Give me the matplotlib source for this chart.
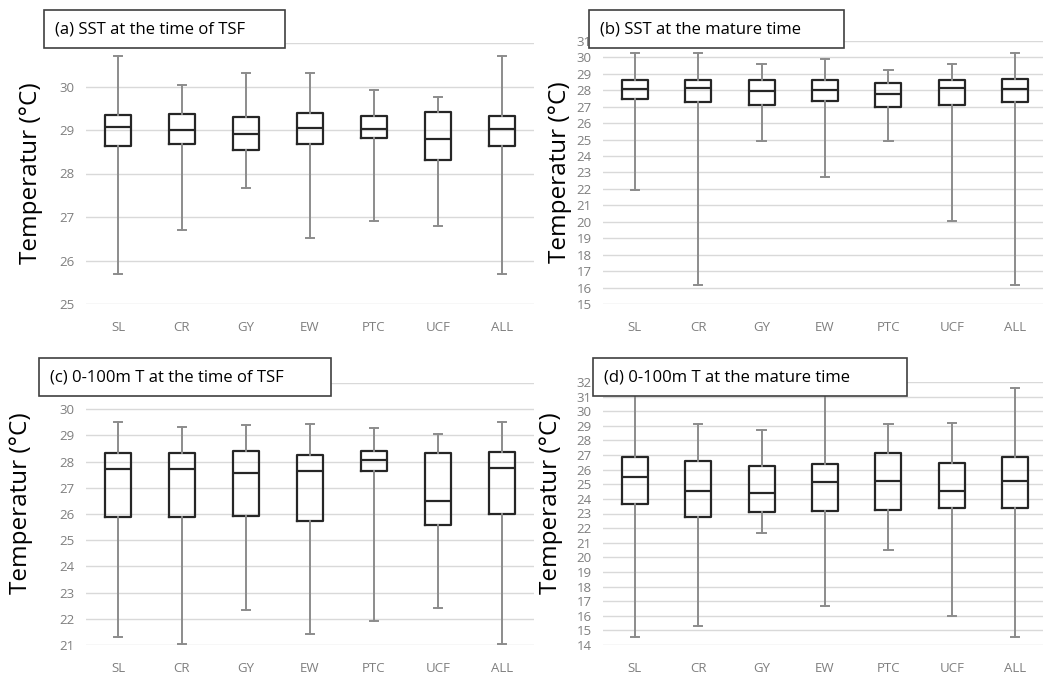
import matplotlib
matplotlib.use("Agg")
import matplotlib.pyplot as plt
from matplotlib.patches import Rectangle

plt.rcParams["font.family"] = ["Open Sans", "DejaVu Sans"]

groups = ["SL", "CR", "GY", "EW", "PTC", "UCF", "ALL"]

# (a) SST at the time of TSF
a_lo = [25.70, 26.70, 27.66, 26.51, 26.90, 26.80, 25.70]
a_q1 = [28.64, 28.68, 28.53, 28.68, 28.81, 28.32, 28.64]
a_med = [29.06, 29.01, 28.90, 29.05, 29.03, 28.80, 29.03]
a_q3 = [29.34, 29.37, 29.29, 29.39, 29.32, 29.42, 29.33]
a_hi = [30.70, 30.03, 30.30, 30.32, 29.92, 29.77, 30.70]

# (b) SST at the mature time
b_lo = [21.95, 16.13, 24.90, 22.74, 24.90, 20.07, 16.13]
b_q1 = [27.49, 27.29, 27.09, 27.37, 27.01, 27.09, 27.31]
b_med = [28.08, 28.14, 27.94, 28.02, 27.80, 28.14, 28.06]
b_q3 = [28.62, 28.62, 28.62, 28.62, 28.42, 28.62, 28.68]
b_hi = [30.26, 30.26, 29.62, 29.88, 29.25, 29.62, 30.26]

# (c) 0-100m T at the time of TSF
c_lo = [21.32, 21.05, 22.32, 21.41, 21.93, 22.41, 21.05]
c_q1 = [25.89, 25.89, 25.94, 25.75, 27.66, 25.59, 26.00]
c_med = [27.70, 27.70, 27.56, 27.66, 28.05, 26.50, 27.76]
c_q3 = [28.31, 28.31, 28.40, 28.26, 28.40, 28.31, 28.35]
c_hi = [29.52, 29.33, 29.41, 29.45, 29.28, 29.06, 29.52]

# (d) 0-100m T at the mature time
d_lo = [14.55, 15.28, 21.67, 16.67, 20.48, 15.96, 14.55]
d_q1 = [23.65, 22.76, 23.08, 23.15, 23.24, 23.40, 23.40]
d_med = [25.48, 24.54, 24.38, 25.16, 25.25, 24.54, 25.25]
d_q3 = [26.89, 26.57, 26.25, 26.41, 27.12, 26.48, 26.89]
d_hi = [31.57, 29.10, 28.72, 31.40, 29.10, 29.17, 31.57]

W, H = 1043, 673
fig = plt.figure(figsize=(W / 100, H / 100), dpi=100)


def px_axes(x0, x1, ytop, ybot):
    return fig.add_axes([x0 / W, 1 - ybot / H, (x1 - x0) / W, (ybot - ytop) / H])


def panel(ax, lo, q1, med, q3, hi, ylim, label_x, label_y, hide_top=False):
    stats = [
        dict(whislo=l, q1=a, med=m, q3=b, whishi=h, fliers=[], label=g)
        for g, l, a, m, b, h in zip(groups, lo, q1, med, q3, hi)
    ]
    ax.bxp(
        stats,
        positions=range(len(groups)),
        widths=0.41,
        capwidths=0.13,
        showfliers=False,
        boxprops=dict(color="#262626", linewidth=1.6),
        medianprops=dict(color="#262626", linewidth=1.6),
        whiskerprops=dict(color="#8c8c8c", linewidth=1.4),
        capprops=dict(color="#8c8c8c", linewidth=1.4),
    )
    ax.set_xlim(-0.5, 6.5)
    ax.set_ylim(*ylim)
    ticks = list(range(ylim[0], ylim[1] + 1))
    ax.set_yticks(ticks)
    # the top label sits under the title box in the original
    ax.set_yticklabels([("" if hide_top and t == ticks[-1] else str(t)) for t in ticks])
    ax.grid(axis="y", color="#d9d9d9", linewidth=1.0)
    ax.set_axisbelow(True)
    for s in ax.spines.values():
        s.set_visible(False)
    ax.tick_params(axis="y", length=0, pad=8, labelsize=9.5, labelcolor="#7f7f7f")
    ax.tick_params(axis="x", length=0, pad=12, labelsize=9.5, labelcolor="#7f7f7f")
    ax.set_ylabel("Temperatur (\u00b0C)", fontsize=17.5, color="black")
    ax.yaxis.set_label_coords(label_x, label_y)


def title_box(x0, x1, ytop, ybot, tx, text):
    fig.add_artist(
        Rectangle(
            (x0 / W, 1 - ybot / H), (x1 - x0) / W, (ybot - ytop) / H,
            transform=fig.transFigure, facecolor="white",
            edgecolor="#404040", linewidth=1.2, zorder=10,
        )
    )
    fig.text(tx / W, 1 - (ytop + ybot) / 2 / H, text, fontsize=12,
             va="center", ha="left", zorder=11)


ax_a = px_axes(86, 534, 43, 304)
panel(ax_a, a_lo, a_q1, a_med, a_q3, a_hi, (25, 31), -0.096, 0.5, hide_top=True)
ax_b = px_axes(603, 1047, 41, 304)
panel(ax_b, b_lo, b_q1, b_med, b_q3, b_hi, (15, 31), -0.07, 0.5)
ax_c = px_axes(86, 534, 383, 645)
panel(ax_c, c_lo, c_q1, c_med, c_q3, c_hi, (21, 31), -0.118, 0.54, hide_top=True)
ax_d = px_axes(603, 1047, 382, 645)
panel(ax_d, d_lo, d_q1, d_med, d_q3, d_hi, (14, 32), -0.09, 0.54)

title_box(44, 285, 10, 48, 55, "(a) SST at the time of TSF")
title_box(589, 844, 10, 48, 600, "(b) SST at the mature time")
title_box(39, 331, 358, 396, 50, "(c) 0-100m T at the time of TSF")
title_box(593, 907, 358, 396, 604, "(d) 0-100m T at the mature time")

fig.savefig("out.png", dpi=100)
